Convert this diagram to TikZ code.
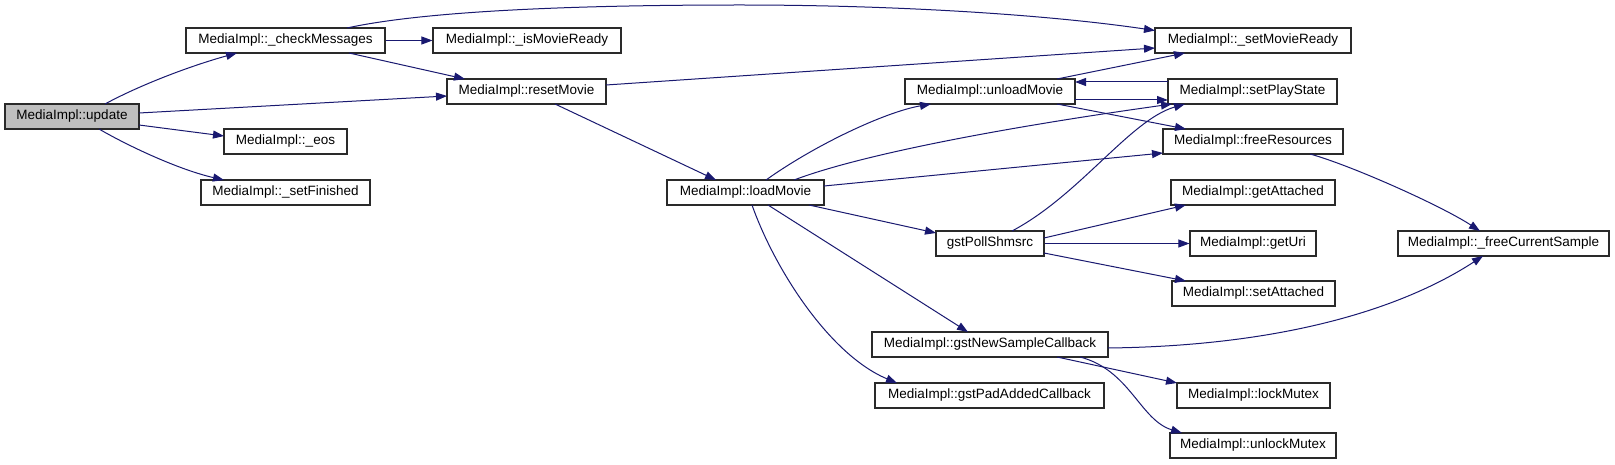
\documentclass[tikz,border=0pt]{standalone}
\usepackage{fontspec}
\setmainfont{Liberation Sans}
\usetikzlibrary{arrows.meta,calc}
\definecolor{edgecol}{HTML}{191970}
\definecolor{grayfill}{HTML}{BFBFBF}
\definecolor{boxline}{HTML}{2A2A2A}
\begin{document}
\begin{tikzpicture}[x=1pt,y=-1pt,
  box/.style={draw=boxline,line width=1.1pt,fill=white,minimum height=25pt,inner sep=0pt,font=\fontsize{13.5}{16}\selectfont},
  cg/.style={draw=edgecol,line width=1pt,-{Triangle[length=11pt,width=8pt]}}]
\useasboundingbox[fill=white] (0,0) rectangle (1615,465);
% nodes
\node[box,minimum width=134pt,fill=grayfill] (up) at (72,116.5) {MediaImpl::update};
\node[box,minimum width=199pt] (cm) at (285.5,40.5) {MediaImpl::\_checkMessages};
\node[box,minimum width=188pt] (imr) at (527,40.5) {MediaImpl::\_isMovieReady};
\node[box,minimum width=159pt] (rm) at (526.5,91.5) {MediaImpl::resetMovie};
\node[box,minimum width=123pt] (eos) at (285.5,141.5) {MediaImpl::\_eos};
\node[box,minimum width=169pt] (sf) at (285.5,192.5) {MediaImpl::\_setFinished};
\node[box,minimum width=157pt] (lm) at (745.5,192.5) {MediaImpl::loadMovie};
\node[box,minimum width=170pt] (um) at (990,91.5) {MediaImpl::unloadMovie};
\node[box,minimum width=196pt] (smr) at (1253,40.5) {MediaImpl::\_setMovieReady};
\node[box,minimum width=169pt] (sps) at (1252.5,91.5) {MediaImpl::setPlayState};
\node[box,minimum width=180pt] (fr) at (1253,141.5) {MediaImpl::freeResources};
\node[box,minimum width=164pt] (ga) at (1253,192.5) {MediaImpl::getAttached};
\node[box,minimum width=108pt] (gps) at (990,243.5) {gstPollShmsrc};
\node[box,minimum width=126pt] (gu) at (1253,243.5) {MediaImpl::getUri};
\node[box,minimum width=163pt] (sa) at (1253.5,293.5) {MediaImpl::setAttached};
\node[box,minimum width=211pt] (fcs) at (1503.5,243.5) {MediaImpl::\_freeCurrentSample};
\node[box,minimum width=236pt] (gns) at (990,344.5) {MediaImpl::gstNewSampleCallback};
\node[box,minimum width=229pt] (gpa) at (989.5,395.5) {MediaImpl::gstPadAddedCallback};
\node[box,minimum width=153pt] (lmx) at (1253.5,395.5) {MediaImpl::lockMutex};
\node[box,minimum width=166pt] (ulm) at (1253,445.5) {MediaImpl::unlockMutex};
% edges
\draw[cg] ($(up)+(33,-12.5)$) .. controls (140,85) and (190,66) .. ($(cm)+(-48.5,12.5)$);
\draw[cg] ($(up)+(67,-3.5)$) -- ($(rm)+(-79.5,4.5)$);
\draw[cg] ($(up)+(67,8.5)$) -- ($(eos)+(-61.5,-5.5)$);
\draw[cg] ($(up)+(27,12.5)$) .. controls (130,147) and (180,170) .. ($(sf)+(-61.5,-12.5)$);
\draw[cg] (cm.east) -- (imr.west);
\draw[cg] ($(cm)+(63.5,12.5)$) -- ($(rm)+(-61.5,-12.5)$);
\draw[cg] ($(cm)+(61.5,-12.5)$) .. controls (420,12) and (560,5) .. (740,5) .. controls (900,5) and (1050,15) .. ($(smr)+(-98,-10)$);
\draw[cg] ($(rm)+(79.5,-6.5)$) -- ($(smr)+(-98,7.5)$);
\draw[cg] ($(rm)+(28.5,12.5)$) -- ($(lm)+(-29.5,-12.5)$);
\draw[cg] ($(lm)+(20.5,-12.5)$) .. controls (815,145) and (885,112) .. ($(um)+(-59,12.5)$);
\draw[cg] ($(lm)+(48.5,-12.5)$) .. controls (860,155) and (1000,128) .. ($(sps)+(-80.5,12.5)$);
\draw[cg] ($(lm)+(78.5,-6.5)$) -- ($(fr)+(-90,11.5)$);
\draw[cg] ($(lm)+(63.5,12.5)$) -- ($(gps)+(-54,-10.5)$);
\draw[cg] ($(lm)+(22.5,12.5)$) -- ($(gns)+(-22,-12.5)$);
\draw[cg] ($(lm)+(6.5,12.5)$) .. controls (775,270) and (830,355) .. ($(gpa)+(-92.5,-12.5)$);
\draw[cg] ($(um)+(67,-12.5)$) -- ($(smr)+(-68,12.5)$);
\draw[cg] ($(um)+(85,8.5)$) -- ($(sps)+(-84.5,8.5)$);
\draw[cg] ($(um)+(67,12.5)$) -- ($(fr)+(-67,-12.5)$);
\draw[cg] ($(sps)+(-84.5,-9.5)$) -- ($(um)+(85,-9.5)$);
\draw[cg] ($(gps)+(22,-12.5)$) .. controls (1080,195) and (1130,120) .. ($(sps)+(-67.5,12.5)$);
\draw[cg] ($(gps)+(54,-5.5)$) -- ($(ga)+(-67,12.5)$);
\draw[cg] (gps.east) -- (gu.west);
\draw[cg] ($(gps)+(54,9.5)$) -- ($(sa)+(-67.5,-12.5)$);
\draw[cg] ($(fr)+(57,12.5)$) .. controls (1350,165) and (1440,205) .. ($(fcs)+(-23.5,-12.5)$);
\draw[cg] ($(gns)+(118,3.5)$) .. controls (1280,346) and (1400,310) .. ($(fcs)+(-20.5,12.5)$);
\draw[cg] ($(gns)+(67,12.5)$) -- ($(lmx)+(-76.5,-12.5)$);
\draw[cg] ($(gns)+(90,12.5)$) .. controls (1130,370) and (1140,420) .. ($(ulm)+(-71,-12.5)$);
\end{tikzpicture}
\end{document}
